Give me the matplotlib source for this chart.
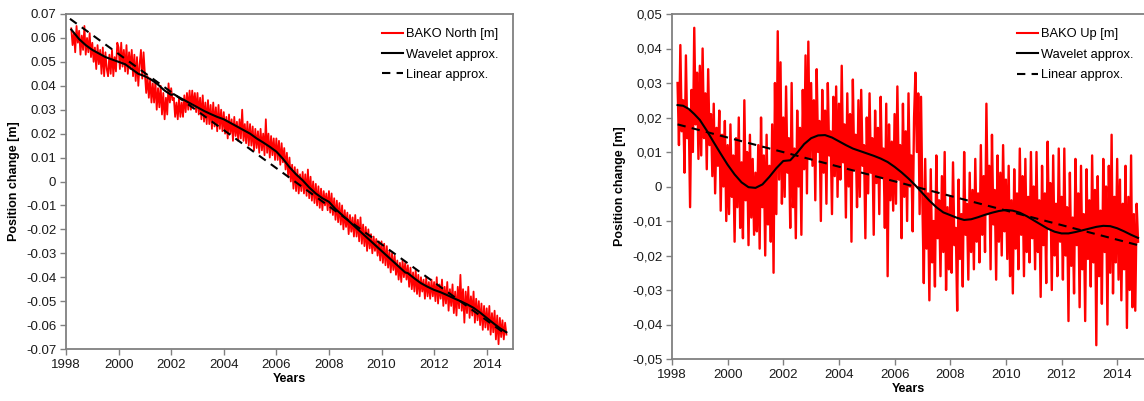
import matplotlib
matplotlib.use('Agg')
import matplotlib.pyplot as plt
import numpy as np

plt.rcParams['font.family'] = ['Liberation Sans', 'DejaVu Sans']

# red series are sampled every 0.05 year starting 1998.20, values in mm
t_start = 1998.20
t_step = 0.05

north_mm = [
    64, 57, 62, 54, 65, 58, 63, 53, 61, 55, 65, 53, 60, 54, 62, 52,
    58, 50, 56, 47, 57, 49, 55, 45, 56, 44, 54, 47, 44, 53, 45, 55, 44, 52, 46, 58,
    56, 47, 58, 48, 55, 46, 57, 45, 54, 47, 55, 44, 53, 42, 52, 40, 49, 55, 43, 54,
    45, 37, 44, 35, 43, 33, 41, 33, 42, 30, 39, 31, 40, 28, 37, 26, 35, 28, 41, 33,
    39, 34, 35, 27, 33, 26, 35, 27, 33, 27, 36, 29, 37, 30, 38, 30, 38, 31, 37, 29,
    37, 28, 35, 26, 36, 25, 33, 24, 34, 24, 32, 22, 33, 23, 31, 21, 32, 22, 30, 21,
    29, 20, 27, 18, 28, 20, 26, 17, 27, 19, 25, 17, 26, 18, 30, 17, 24, 16, 25, 15,
    24, 15, 23, 13, 22, 14, 21, 12, 22, 13, 20, 11, 26, 12, 20, 10, 19, 11, 18, 9,
    18, 9, 17, 7, 16, 8, 14, 5, 12, 2, 10, 0, 7, -3, 6, -4, 5, -5, 3, -4,
    4, -5, 3, -6, 5, -7, 2, -8, 0, -9, -1, -10, -2, -11, -3, -12, -4, -10, -5, -12,
    -4, -13, -5, -14, -7, -16, -8, -17, -9, -18, -10, -20, -12, -19, -13, -22, -14, -21, -15, -23,
    -14, -23, -16, -25, -15, -26, -18, -27, -19, -29, -20, -28, -22, -30, -23, -29, -24, -31, -25, -33,
    -25, -34, -26, -35, -27, -36, -29, -38, -30, -37, -31, -39, -33, -41, -34, -42, -33, -40, -34, -41,
    -35, -44, -36, -45, -38, -46, -37, -47, -39, -48, -40, -46, -41, -49, -40, -48, -42, -49, -41, -48,
    -42, -50, -40, -51, -43, -49, -41, -52, -44, -51, -42, -54, -45, -52, -43, -55, -46, -56, -44, -53,
    -39, -54, -45, -59, -46, -55, -44, -57, -48, -56, -46, -59, -49, -58, -50, -60, -51, -62, -52, -61,
    -53, -62, -52, -64, -55, -63, -54, -66, -56, -68, -57, -65, -58, -66, -59, -64,
]

up_mm = [
    30, 12, 41, 16, 25, 4, 38, 14, 22, -6, 28, 10, 46, 18, 33, 8,
    35, 9, 40, 14, 27, 5, 34, 12, 21, 3, 24, -2, 17, 6, 22, -7, 15, 0, 19, -10,
    12, -8, 18, -3, 9, -16, 14, -6, 20, -12, 7, -15, 25, -4, 10, -17, 15, -9, 8, -14,
    4, -13, 12, -18, 20, -6, 9, -20, 15, -11, 6, -16, 18, -25, 30, -8, 45, 2, 36, -5,
    20, -3, 29, 4, 14, -12, 30, -6, 11, -15, 22, 0, 17, -14, 28, 5, 38, -2, 42, 8,
    30, 6, 25, -4, 34, 10, 19, -10, 28, 4, 22, -5, 30, 9, 16, -8, 26, 3, 29, -3,
    24, 2, 35, 7, 18, -9, 27, 0, 21, -16, 31, 5, 15, -6, 25, -3, 28, 6, 12, -15,
    20, -2, 27, 4, 14, -14, 22, 1, 17, -8, 26, 3, 11, -12, 24, -26, 18, -4, 13, -7,
    21, -5, 29, 2, 12, -15, 24, -3, 16, -10, 27, 0, 9, -13, 20, 33, 10, 27, -8, 26,
    -5, -28, 8, -18, -2, -33, 5, -22, -10, -29, 9, -15, -4, -26, 3, -19, 10, -30, -6, -24,
    -3, -25, 7, -17, -12, -36, 2, -21, -8, -29, 10, -14, -5, -27, 4, -19, -1, -24, 8, -16,
    -2, -22, 12, -14, 3, -19, 24, -8, 6, -24, 15, -11, -1, -27, 9, -16, 4, -20, 12, -13,
    2, -21, 6, -26, -4, -31, 5, -18, -2, -24, 11, -14, 3, -26, 8, -19, -3, -22, 10, -15,
    0, -24, 10, -19, -4, -32, 6, -17, -2, -28, 13, -12, 1, -30, 9, -20, -5, -26, 11, -16,
    -3, -27, 11, -20, -6, -39, 4, -23, -9, -31, 8, -17, -2, -35, 6, -24, -8, -39, 5, -21,
    -4, -29, 9, -22, -1, -46, 3, -26, -7, -34, 8, -19, 0, -40, 6, -25, 15, -31, -3, -22,
    8, -27, 2, -33, -5, -24, 6, -41, -3, -30, 9, -35, -8, -36, -5, -16,
]

north_wav_t = [1998.2, 1998.5, 1998.75, 1999, 1999.25, 1999.5, 1999.75, 2000, 2000.25, 2000.5,
               2000.75, 2001, 2001.25, 2001.5, 2001.75, 2002, 2002.1, 2002.25, 2002.5, 2002.75,
               2003, 2003.25, 2003.5, 2003.75, 2004, 2004.25, 2004.5, 2004.75, 2005, 2005.25,
               2005.5, 2005.75, 2006, 2006.25, 2006.5, 2006.75, 2007, 2007.25, 2007.5, 2007.75,
               2008, 2008.25, 2008.5, 2008.75, 2009, 2009.25, 2009.5, 2009.75, 2010, 2010.25,
               2010.5, 2010.75, 2010.9, 2011, 2011.25, 2011.5, 2011.75, 2012, 2012.25, 2012.5,
               2012.75, 2013, 2013.25, 2013.5, 2013.75, 2014, 2014.25, 2014.5, 2014.75]
north_wav_mm = [63.5, 59.5, 57, 55, 53.5, 52, 51, 50, 49, 47,
                45, 44, 42.5, 40.5, 38, 36.2, 36.5, 35.5, 34, 32.5,
                31, 29.5, 28.2, 27, 26, 24.5, 23, 21.5, 20, 18,
                16.3, 14.5, 12.5, 9.5, 6, 3, 0.5, -2.5, -5, -7,
                -8.5, -11.5, -14, -16.5, -19, -21.5, -24, -26.5, -29, -31.5,
                -34, -36.5, -38, -38.3, -40.5, -42.5, -44, -45.3, -46.3, -47.5,
                -48.8, -50, -51.3, -52.8, -54.8, -57, -59.2, -61.3, -63]

up_wav_t = [1998.2, 1998.4, 1998.6, 1998.8, 1999, 1999.25, 1999.5, 1999.75, 2000, 2000.25,
            2000.5, 2000.75, 2001, 2001.25, 2001.5, 2001.75, 2002, 2002.25, 2002.5, 2002.75,
            2003, 2003.25, 2003.5, 2003.75, 2004, 2004.25, 2004.5, 2004.75, 2005, 2005.25,
            2005.5, 2005.75, 2006, 2006.25, 2006.5, 2006.75, 2007, 2007.25, 2007.5, 2007.75,
            2008, 2008.25, 2008.5, 2008.75, 2009, 2009.25, 2009.5, 2009.75, 2010, 2010.25,
            2010.5, 2010.75, 2011, 2011.25, 2011.5, 2011.75, 2012, 2012.25, 2012.5, 2012.75,
            2013, 2013.25, 2013.5, 2013.75, 2014, 2014.25, 2014.5, 2014.75]
up_wav_mm = [23.6, 23.4, 22.5, 21, 19.3, 16.2, 12.8, 9.5, 6.3, 3.5,
             1.2, -0.2, -0.4, 0.6, 2.8, 5.3, 7.4, 7.6, 9.8, 12.3,
             14, 14.8, 14.9, 14.2, 13.1, 12, 11, 10.3, 9.6, 8.9,
             8.1, 7.1, 5.7, 4.1, 2.3, 0.3, -1.9, -4.1, -6, -7.5,
             -8.3, -9.1, -9.7, -9.5, -8.9, -8.2, -7.6, -7.1, -6.8, -7,
             -7.6, -8.6, -9.8, -11, -12.2, -13.1, -13.6, -13.6, -13.2, -12.7,
             -12.2, -11.7, -11.4, -11.5, -12.1, -13, -14, -14.9]

north_lin_t = [1998.15, 2014.75]
north_lin_mm = [68, -64]
up_lin_t = [1998.2, 2014.75]
up_lin_mm = [18, -17]

year_ticks = list(range(1998, 2015, 2))


def fmt_tick(v, comma):
    if abs(v) < 1e-9:
        return '0'
    s = '%.2f' % v
    if comma:
        s = s.replace('.', ',')
    return s


def draw(ax, series, wav_t, wav, lin_t, lin, label, yticks, comma, legend_x, red_lw):
    t = t_start + t_step * np.arange(len(series))
    ax.plot(t, np.array(series) / 1000, color='#ff0000', lw=red_lw, label=label)
    ax.plot(wav_t, np.array(wav) / 1000, color='black', lw=1.5, label='Wavelet approx.')
    ax.plot(lin_t, np.array(lin) / 1000, color='black', lw=1.5, ls=(0, (4, 3)),
            label='Linear approx.')
    ax.set_xlim(1998, 2015)
    ax.set_ylim(yticks[0], yticks[-1])
    ax.set_xticks(year_ticks)
    ax.set_yticks(yticks)
    ax.set_yticklabels([fmt_tick(v, comma) for v in yticks])
    ax.tick_params(direction='out', length=4, width=1, color='#808080',
                   labelsize=9.5, labelcolor='#1a1a1a', pad=3)
    for sp in ax.spines.values():
        sp.set_color('#808080')
        sp.set_linewidth(1.3)
    ax.set_xlabel('Years', fontsize=9, fontweight='bold', labelpad=2)
    ax.set_ylabel('Position change [m]', fontsize=9, fontweight='bold', labelpad=4)
    leg = ax.legend(loc='upper right', bbox_to_anchor=(legend_x, 0.985), frameon=False,
                    fontsize=9.3, handlelength=1.6, handletextpad=0.2, labelspacing=0.65,
                    borderaxespad=0.3)
    leg.get_lines()[0].set_linewidth(1.5)


fig = plt.figure(figsize=(11.44, 4.01), dpi=100)
ax1 = fig.add_axes([66 / 1144, 52 / 401, 447 / 1144, 335 / 401])
ax2 = fig.add_axes([672 / 1144, 42 / 401, 473 / 1144, 345 / 401])

north_ticks = [round(v, 2) for v in np.arange(-0.07, 0.0701, 0.01)]
up_ticks = [round(v, 2) for v in np.arange(-0.05, 0.0501, 0.01)]

draw(ax1, north_mm, north_wav_t, north_wav_mm, north_lin_t, north_lin_mm,
     'BAKO North [m]', north_ticks, False, 0.987, 1.3)
draw(ax2, up_mm, up_wav_t, up_wav_mm, up_lin_t, up_lin_mm,
     'BAKO Up [m]', up_ticks, True, 0.994, 1.7)

fig.savefig('out.png', dpi=100)
